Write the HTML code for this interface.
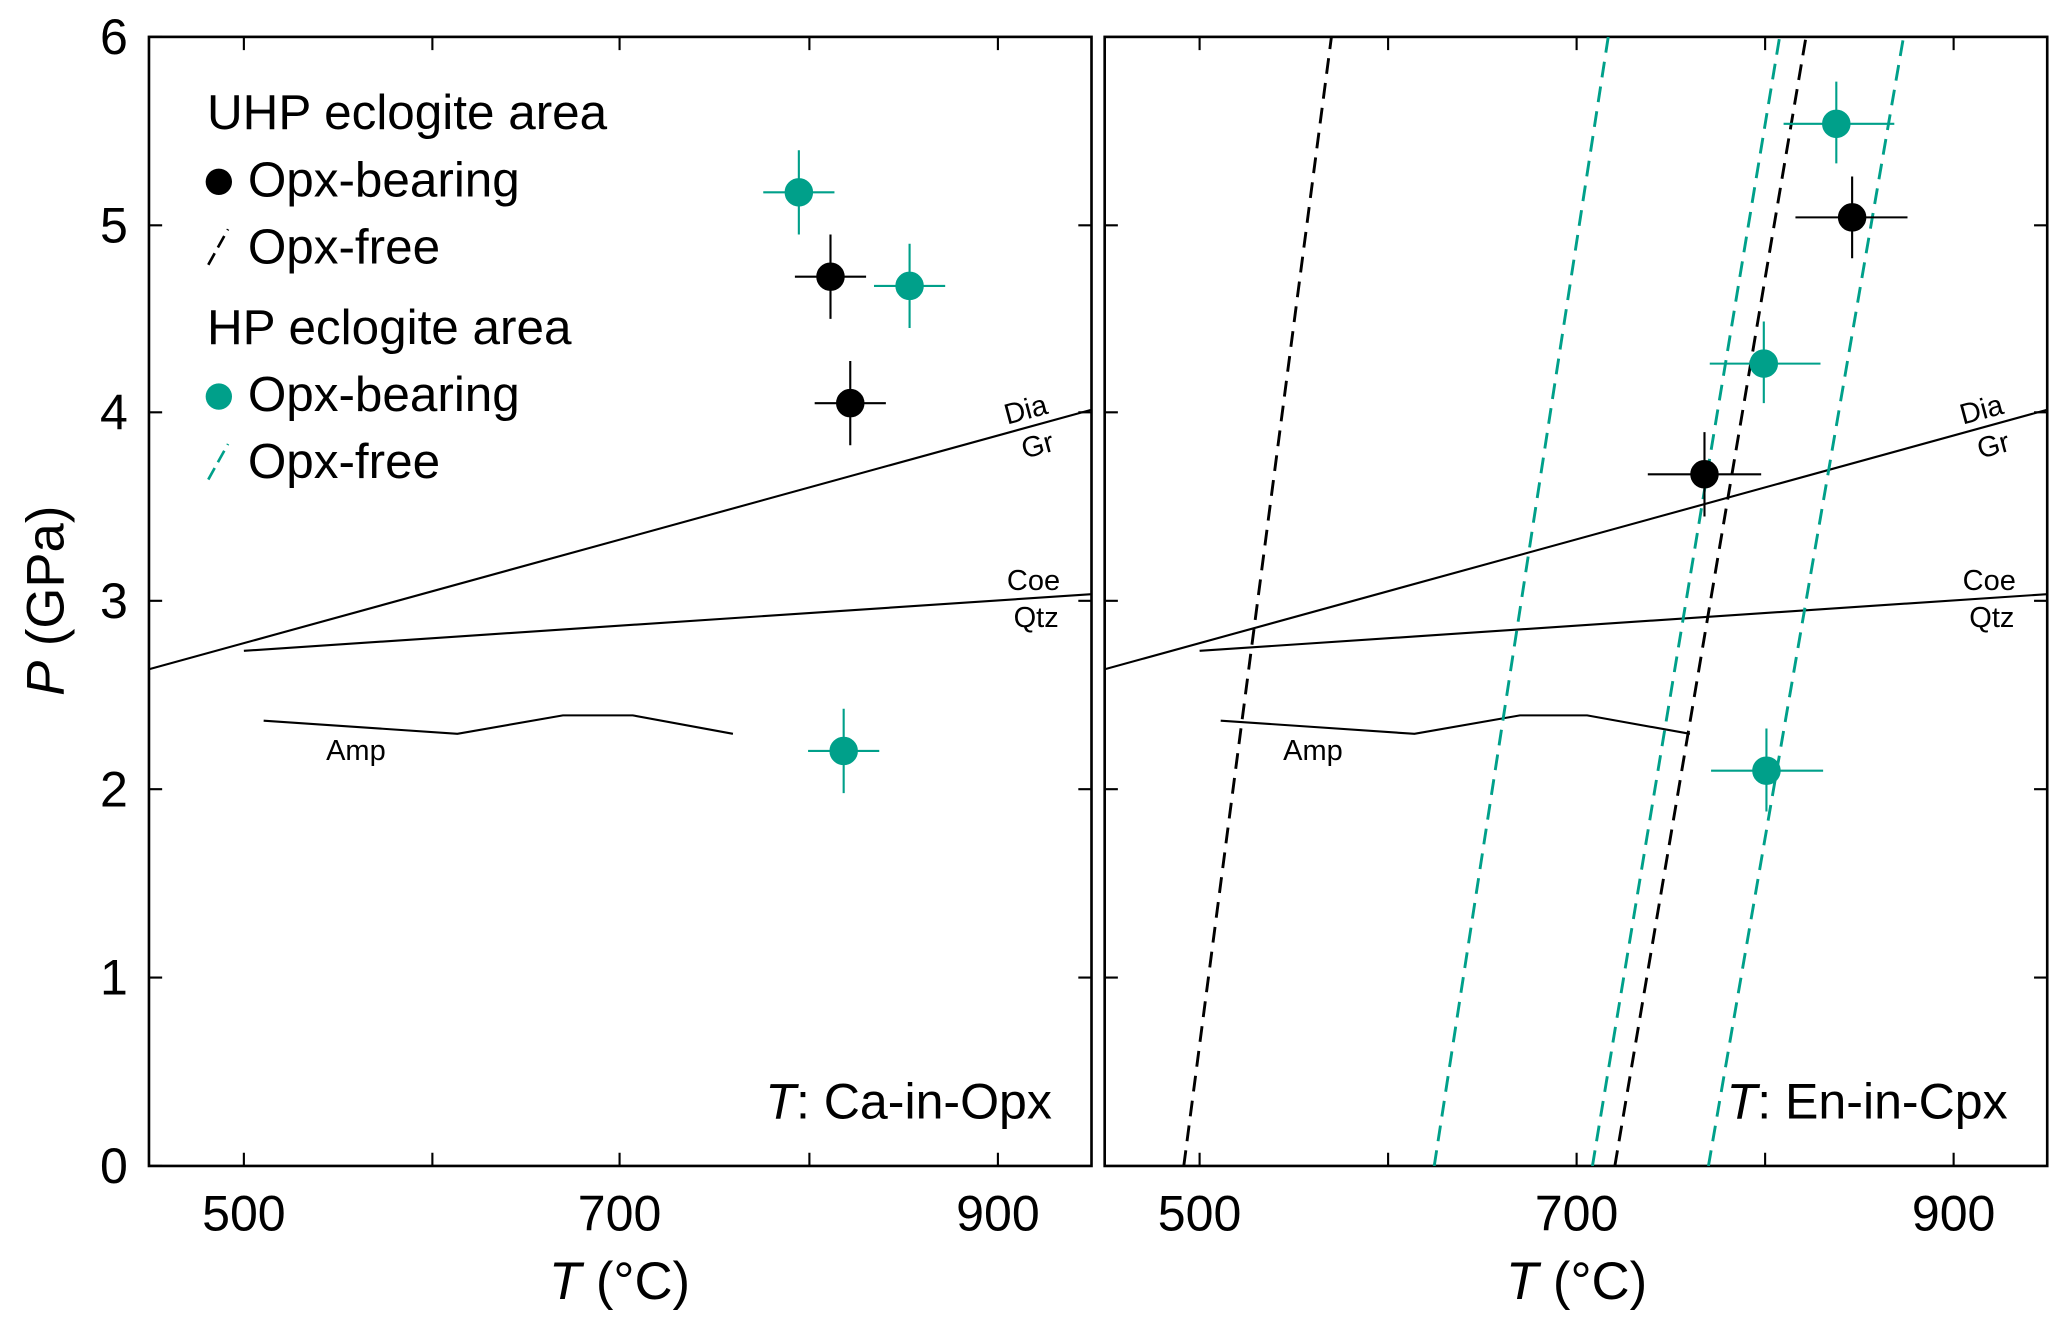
<!DOCTYPE html>
<html><head><meta charset="utf-8"><style>
html,body{margin:0;padding:0;background:#fff;}
svg{display:block;}
text{font-family:"Liberation Sans",sans-serif;fill:#000;}
</style></head><body>
<svg width="2067" height="1328" viewBox="0 0 1568 1008" preserveAspectRatio="none" xmlns="http://www.w3.org/2000/svg">
<defs>
<clipPath id="cl"><rect x="113" y="28" width="715" height="857"/></clipPath>
<clipPath id="cr"><rect x="838" y="28" width="715" height="857"/></clipPath>
</defs>
<g fill="none" stroke="#000" stroke-width="1.6">
<rect x="113" y="28" width="715" height="857" stroke-width="2"/>
<path d="M113 28h10M113 171h10M113 313h10M113 456h10M113 599h10M113 742h10M113 885h10
M828 171h-10M828 313h-10M828 456h-10M828 599h-10M828 742h-10"/>
<path d="M185 885v-10M328 885v-10M470 885v-10M614 885v-10M757 885v-10
M185 28v10M328 28v10M470 28v10M614 28v10M757 28v10"/>
<g clip-path="url(#cl)">
<line x1="113" y1="508" x2="828" y2="311"/>
<line x1="185" y1="494" x2="828" y2="451"/>
<polyline points="200,547 347,557 427,543 480,543 556,557"/>
</g>
</g>
<g fill="none" stroke="#000" stroke-width="1.6">
<rect x="838" y="28" width="715" height="857" stroke-width="2"/>
<path d="M838 171h10M838 313h10M838 456h10M838 599h10M838 742h10
M1553 171h-10M1553 313h-10M1553 456h-10M1553 599h-10M1553 742h-10"/>
<path d="M910 885v-10M1053 885v-10M1196 885v-10M1339 885v-10M1482 885v-10
M910 28v10M1053 28v10M1196 28v10M1339 28v10M1482 28v10"/>
<g clip-path="url(#cr)">
<line x1="838" y1="508" x2="1553" y2="311"/>
<line x1="910" y1="494" x2="1553" y2="451"/>
<polyline points="926,547 1073,557 1153,543 1204,543 1282,557"/>
<g stroke-width="2.2" stroke-dasharray="12,7">
<line x1="898" y1="885" x2="1010" y2="28"/>
<line x1="1225" y1="885" x2="1370" y2="28"/>
<line x1="1088" y1="885" x2="1220" y2="28" stroke="#00a08a"/>
<line x1="1208" y1="885" x2="1350" y2="28" stroke="#00a08a"/>
<line x1="1296" y1="885" x2="1444" y2="28" stroke="#00a08a"/>
</g>
</g>
</g>
<g stroke-width="1.6">
<g stroke="#00a08a" fill="#00a08a"><path d="M579 146h54M606 114v64"/><circle cx="606" cy="146" r="10"/></g>
<g stroke="#000" fill="#000"><path d="M603 210h54M630 178v64"/><circle cx="630" cy="210" r="10"/></g>
<g stroke="#00a08a" fill="#00a08a"><path d="M663 217h54M690 185v64"/><circle cx="690" cy="217" r="10"/></g>
<g stroke="#000" fill="#000"><path d="M618 306h54M645 274v64"/><circle cx="645" cy="306" r="10"/></g>
<g stroke="#00a08a" fill="#00a08a"><path d="M613 570h54M640 538v64"/><circle cx="640" cy="570" r="10"/></g>
<g stroke="#00a08a" fill="#00a08a"><path d="M1353 94h84M1393 62v62"/><circle cx="1393" cy="94" r="10"/></g>
<g stroke="#000" fill="#000"><path d="M1362 165h85M1405 134v62"/><circle cx="1405" cy="165" r="10"/></g>
<g stroke="#00a08a" fill="#00a08a"><path d="M1297 276h84M1338 244v62"/><circle cx="1338" cy="276" r="10"/></g>
<g stroke="#000" fill="#000"><path d="M1250 360h86M1293 328v64"/><circle cx="1293" cy="360" r="10"/></g>
<g stroke="#00a08a" fill="#00a08a"><path d="M1298 585h85M1340 553v63"/><circle cx="1340" cy="585" r="10"/></g>
</g>
<g font-size="37.5">
<text x="157" y="98">UHP eclogite area</text>
<text x="188" y="149">Opx-bearing</text>
<text x="188" y="200">Opx-free</text>
<text x="157" y="261">HP eclogite area</text>
<text x="188" y="312">Opx-bearing</text>
<text x="188" y="363">Opx-free</text>
</g>
<circle cx="166" cy="138" r="10" fill="#000"/>
<circle cx="166" cy="301" r="10" fill="#00a08a"/>
<line x1="158" y1="201" x2="173" y2="174" stroke="#000" stroke-width="2" stroke-dasharray="10,5"/>
<line x1="158" y1="364" x2="173" y2="337" stroke="#00a08a" stroke-width="2" stroke-dasharray="10,5"/>
<g font-size="22">
<text x="780" y="318" text-anchor="middle" transform="rotate(-15 780 318)">Dia</text>
<text x="789" y="345" text-anchor="middle" transform="rotate(-15 789 345)">Gr</text>
<text x="784" y="448" text-anchor="middle">Coe</text>
<text x="786" y="476" text-anchor="middle">Qtz</text>
<text x="270" y="577" text-anchor="middle">Amp</text>
<text x="1505" y="318" text-anchor="middle" transform="rotate(-15 1505 318)">Dia</text>
<text x="1514" y="345" text-anchor="middle" transform="rotate(-15 1514 345)">Gr</text>
<text x="1509" y="448" text-anchor="middle">Coe</text>
<text x="1511" y="476" text-anchor="middle">Qtz</text>
<text x="996" y="577" text-anchor="middle">Amp</text>
</g>
<g font-size="38">
<text x="798" y="849" text-anchor="end"><tspan font-style="italic">T</tspan>: Ca-in-Opx</text>
<text x="1523" y="849" text-anchor="end"><tspan font-style="italic">T</tspan>: En-in-Cpx</text>
</g>
<g font-size="38" text-anchor="end">
<text x="97" y="41">6</text><text x="97" y="184">5</text><text x="97" y="326">4</text>
<text x="97" y="469">3</text><text x="97" y="612">2</text><text x="97" y="755">1</text><text x="97" y="898">0</text>
</g>
<g font-size="38" text-anchor="middle">
<text x="185" y="934">500</text><text x="470" y="934">700</text><text x="757" y="934">900</text>
<text x="910" y="934">500</text><text x="1196" y="934">700</text><text x="1482" y="934">900</text>
<text x="470" y="986" font-size="40"><tspan font-style="italic">T</tspan> (°C)</text>
<text x="1196" y="986" font-size="40"><tspan font-style="italic">T</tspan> (°C)</text>
<text x="0" y="0" font-size="40" transform="translate(48 456) rotate(-90)"><tspan font-style="italic">P</tspan> (GPa)</text>
</g>
</svg>
</body></html>
